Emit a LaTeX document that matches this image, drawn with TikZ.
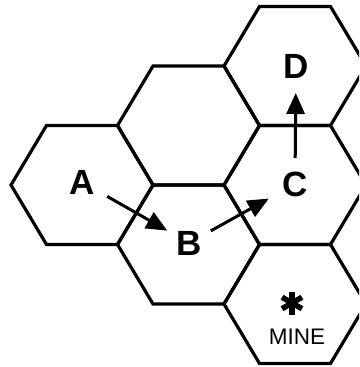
\documentclass[tikz,border=0pt]{standalone}
\usepackage{fontspec}
\setmainfont{Liberation Sans}
\usetikzlibrary{arrows.meta}
\begin{document}
\begin{tikzpicture}[x=1pt,y=-1pt,
  hexline/.style={line width=3.2pt, line join=miter},
  lab/.style={font=\fontsize{35}{35}\selectfont\bfseries, inner sep=0pt},
  mv/.style={line width=3pt, -{Triangle[length=21pt,width=18pt]}},
  spoke/.style={line width=5.5pt}]
\useasboundingbox (0,0) rectangle (359,367);
\begin{scope}
  \clip (0,0) rectangle (359,367);
  \foreach \cx/\cy in {82/185, 188.5/125.5, 188.5/244.5, 295/66, 295/185, 295/304}
    \draw[hexline] (\cx-71,\cy) -- (\cx-35.5,\cy-59.5) -- (\cx+35.5,\cy-59.5)
      -- (\cx+71,\cy) -- (\cx+35.5,\cy+59.5) -- (\cx-35.5,\cy+59.5) -- cycle;
\end{scope}
\node[lab] (A) at (82,182) {A};
\node[lab] (B) at (189,243) {B};
\node[lab] (C) at (295,184) {C};
\node[lab] (D) at (296,66) {D};
\draw[mv, shorten <=29pt, shorten >=25pt] (A.center) -- (B.center);
\draw[mv, shorten <=25pt, shorten >=30pt] (B.center) -- (C.center);
\draw[mv, shorten <=26pt, shorten >=27pt] (C.center) -- (D.center);
\coordinate (star) at (292,303);
\foreach \a in {90,30,150}
  \draw[spoke] (star) ++(\a:11.5) -- ++(\a+180:23);
\node[font=\fontsize{22.5}{22.5}\selectfont, inner sep=0pt] (mine) at (297,337) {MINE};
\end{tikzpicture}
\end{document}
